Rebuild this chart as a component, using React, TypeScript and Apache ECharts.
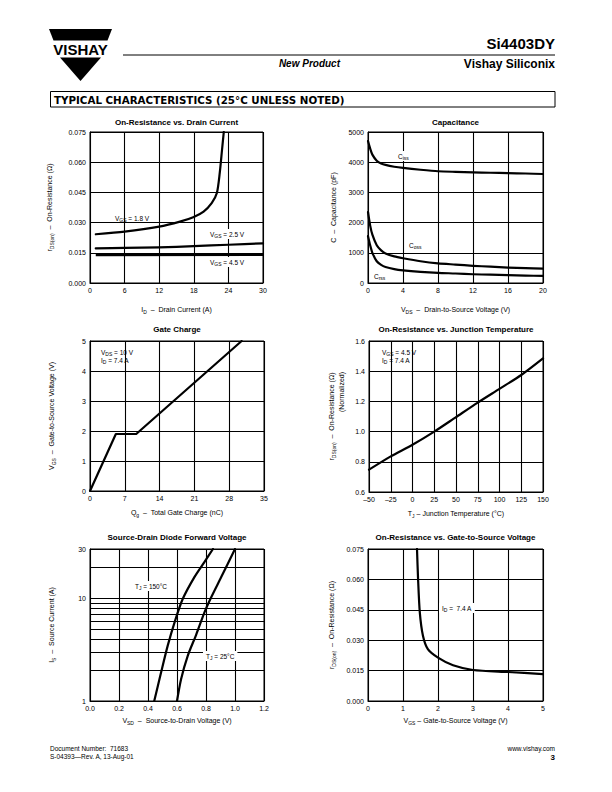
import React, { useEffect, useRef } from 'react';
import * as echarts from 'echarts';

const FONT = '"Liberation Sans", Arial, Helvetica, sans-serif';

// ---------- Chart 1: On-Resistance vs. Drain Current ----------
const c1X18 = [1, 6, 12, 15.6, 17.9, 19.7, 21.1, 22, 22.5, 22.9, 23.2];
const c1Y18 = [0.0242, 0.0255, 0.028, 0.0305, 0.0327, 0.0355, 0.0397, 0.0447, 0.0547, 0.0663, 0.075];
const c1X25 = [1, 6, 12, 18, 24, 30];
const c1Y25 = [0.0172, 0.0174, 0.0177, 0.0183, 0.019, 0.0197];
const c1X45 = [1, 30];
const c1Y45 = [0.0139, 0.0141];

// ---------- Chart 2: Capacitance ----------
const c2Vds = [0, 0.25, 0.5, 1, 1.5, 2, 3, 4, 6, 8, 10, 12, 14, 16, 18, 20];
const c2Ciss = [4700, 4450, 4250, 4050, 3960, 3910, 3850, 3810, 3750, 3700, 3680, 3665, 3650, 3640, 3625, 3610];
const c2Coss = [2350, 1900, 1600, 1250, 1080, 980, 880, 820, 720, 650, 610, 570, 540, 510, 490, 475];
const c2Crss = [1550, 1250, 1000, 720, 600, 530, 460, 420, 370, 335, 315, 290, 275, 260, 245, 235];

// ---------- Chart 3: Gate Charge ----------
const c3Qg = [0, 5.2, 9.3, 30.5];
const c3Vgs = [0, 1.9, 1.9, 5.0];

// ---------- Chart 4: On-Resistance vs. Junction Temperature ----------
const c4Tj = [-50, -25, 0, 25, 50, 75, 100, 125, 150];
const c4R = [0.748, 0.836, 0.913, 1.0, 1.096, 1.192, 1.283, 1.375, 1.485];

// ---------- Chart 5: Source-Drain Diode Forward Voltage ----------
const c5V150 = [0.443, 0.49, 0.536, 0.587, 0.64, 0.72, 0.79, 0.848];
const c5I150 = [1, 1.89, 3.45, 6.05, 9.85, 16, 22.5, 30];
const c5V25 = [0.6, 0.628, 0.674, 0.732, 0.79, 0.836, 0.905, 1.0];
const c5I25 = [1, 1.63, 2.75, 4.4, 7.3, 10.2, 16, 30];
const c5MinorLines = [2, 3, 4, 5, 6, 7, 8, 9, 20];

// ---------- Chart 6: On-Resistance vs. Gate-to-Source Voltage ----------
const c6Vgs = [1.4, 1.43, 1.48, 1.57, 1.71, 2.0, 2.43, 3.0, 4.0, 5.0];
const c6R = [0.075, 0.0605, 0.0437, 0.0322, 0.0256, 0.0214, 0.0176, 0.0153, 0.0143, 0.0133];

const zip = (xs: number[], ys: number[]) => xs.map((x, i) => [x, ys[i]]);

const RICH = {
  m: { fontSize: 7, fontFamily: FONT, color: '#000' },
  s: { fontSize: 5, fontFamily: FONT, color: '#000', padding: [4, 0, 0, 0] },
};

const rt = (parts: Array<[string, boolean?]>) =>
  parts.map(([t, sub]) => `{${sub ? 's' : 'm'}|${t}}`).join('');

const grids = [
  { left: 90, top: 132, width: 173, height: 151 },
  { left: 368, top: 132, width: 175, height: 151 },
  { left: 90, top: 341, width: 174, height: 150 },
  { left: 369, top: 341, width: 174, height: 151 },
  { left: 90, top: 549, width: 174, height: 152 },
  { left: 368, top: 549, width: 175, height: 152 },
].map((g) => ({ ...g, show: true, borderColor: '#000', borderWidth: 1, backgroundColor: 'transparent' }));

const axisCommon = (idx: number, name: string, nameGap: number, fmt: (v: number) => string) => ({
  gridIndex: idx,
  name,
  nameLocation: 'middle',
  nameGap,
  nameTextStyle: { color: '#000', fontSize: 7, fontFamily: FONT, rich: RICH },
  axisLine: { show: true, onZero: false, lineStyle: { color: '#000', width: 1 } },
  axisTick: { show: false },
  splitLine: { show: true, lineStyle: { color: '#000', width: 1.1 } },
  axisLabel: { color: '#000', fontSize: 7, fontFamily: FONT, margin: 4, formatter: fmt },
});

const xAxis = (idx: number, min: number, max: number, interval: number, name: string, gap: number, fmt: (v: number) => string) => ({
  type: 'value', min, max, interval, ...axisCommon(idx, name, gap, fmt),
});
const yAxis = (idx: number, min: number, max: number, interval: number, name: string, gap: number, fmt: (v: number) => string) => ({
  type: 'value', min, max, interval, ...axisCommon(idx, name, gap, fmt),
});

const f3 = (v: number) => v.toFixed(3);
const f1 = (v: number) => v.toFixed(1);
const f0 = (v: number) => String(Math.round(v));
const fNeg = (v: number) => (v < 0 ? '\u2013' + Math.abs(v) : String(v));

const line = (i: number, data: number[][], smooth = true, extra: any = {}) => ({
  type: 'line',
  xAxisIndex: i,
  yAxisIndex: i,
  data,
  showSymbol: false,
  symbol: 'none',
  smooth: smooth ? 0.25 : false,
  lineStyle: { color: '#000', width: 2.2, join: 'round', cap: 'round' },
  silent: true,
  z: 3,
  ...extra,
});

const txt = (x: number, y: number, text: string, font: string, align = 'left', extra: any = {}) => ({
  type: 'text',
  x,
  y,
  z: 100,
  style: { text, font, fill: '#000', align, textAlign: align, verticalAlign: 'middle', textVerticalAlign: 'middle', ...extra },
});

const ANN_RICH = {
  m: { fontSize: 6.5, fontFamily: FONT, fill: '#000', color: '#000' },
  s: { fontSize: 5, fontFamily: FONT, fill: '#000', color: '#000', padding: [3, 0, 0, 0] },
};

const ann = (x: number, y: number, parts: Array<[string, boolean?]>, bg = false) => ({
  type: 'text',
  x,
  y,
  z: 100,
  style: {
    text: rt(parts),
    rich: ANN_RICH,
    fill: '#000',
    align: 'left',
    textAlign: 'left',
    verticalAlign: 'middle',
    textVerticalAlign: 'middle',
    backgroundColor: bg ? '#fff' : undefined,
    padding: bg ? [1, 3, 1, 3] : 0,
  },
});

const TITLE_FONT = `bold 8px ${FONT}`;

const option: any = {
  animation: false,
  backgroundColor: '#fff',
  grid: grids,
  xAxis: [
    xAxis(0, 0, 30, 6, rt([['I'], ['D', true], ['  \u2013  Drain Current (A)']]), 22, f0),
    xAxis(1, 0, 20, 4, rt([['V'], ['DS', true], ['  \u2013  Drain-to-Source Voltage (V)']]), 22, f0),
    xAxis(2, 0, 35, 7, rt([['Q'], ['g', true], ['  \u2013  Total Gate Charge (nC)']]), 17, f0),
    xAxis(3, -50, 150, 25, rt([['T'], ['J', true], [' \u2013 Junction Temperature (\u00b0C)']]), 17, fNeg),
    xAxis(4, 0, 1.2, 0.2, rt([['V'], ['SD', true], ['  \u2013  Source-to-Drain Voltage (V)']]), 15, f1),
    xAxis(5, 0, 5, 1, rt([['V'], ['GS', true], [' \u2013 Gate-to-Source Voltage (V)']]), 15, f0),
  ],
  yAxis: [
    yAxis(0, 0, 0.075, 0.015, rt([['r'], ['DS(on)', true], ['  \u2013  On-Resistance (\u03a9)']]), 36, f3),
    yAxis(1, 0, 5000, 1000, rt([['C  \u2013  Capacitance (pF)']]), 31, f0),
    yAxis(2, 0, 5, 1, rt([['V'], ['GS', true], ['  \u2013  Gate-to-Source Voltage (V)']]), 34, f0),
    yAxis(3, 0.6, 1.6, 0.2, rt([['r'], ['DS(on)', true], ['  \u2013  On-Resistance (\u03a9)']]), 33, f1),
    {
      type: 'log',
      logBase: 10,
      min: 1,
      max: 30,
      ...axisCommon(4, rt([['I'], ['S', true], ['  \u2013  Source Current (A)']]), 34, f0),
    },
    yAxis(5, 0, 0.075, 0.015, rt([['r'], ['DS(on)', true], ['  \u2013  On-Resistance (\u03a9)']]), 32, f3),
  ],
  series: [
    line(0, zip(c1X18, c1Y18)),
    line(0, zip(c1X25, c1Y25)),
    line(0, zip(c1X45, c1Y45), false, { lineStyle: { color: '#000', width: 2.6 } }),
    line(1, zip(c2Vds, c2Ciss)),
    line(1, zip(c2Vds, c2Coss)),
    line(1, zip(c2Vds, c2Crss)),
    line(2, zip(c3Qg, c3Vgs), false),
    line(3, zip(c4Tj, c4R)),
    line(4, zip(c5V150, c5I150), true, {
      markLine: {
        silent: true,
        symbol: ['none', 'none'],
        label: { show: false },
        lineStyle: { color: '#000', width: 1, type: 'solid' },
        emphasis: { disabled: true },
        data: c5MinorLines.map((v) => ({ yAxis: v })),
      },
    }),
    line(4, zip(c5V25, c5I25)),
    line(5, zip(c6Vgs, c6R)),
  ],
  graphic: [
    // Logo
    { type: 'polygon', z: 100, shape: { points: [[49, 29], [112, 29], [107.5, 40.5], [53.5, 40.5]] }, style: { fill: '#000' } },
    txt(80.5, 49.5, 'VISHAY', `bold 15px ${FONT}`, 'center'),
    { type: 'polygon', z: 100, shape: { points: [[60, 57.5], [101, 57.5], [80.5, 81]] }, style: { fill: '#000' } },
    // Header
    { type: 'line', z: 100, shape: { x1: 123, y1: 55, x2: 555, y2: 55 }, style: { stroke: '#000', lineWidth: 1 } },
    txt(555, 43, 'Si4403DY', `bold 15px ${FONT}`, 'right'),
    txt(340, 63.5, 'New Product', `italic bold 10px ${FONT}`, 'right'),
    txt(555, 64, 'Vishay Siliconix', `bold 12px ${FONT}`, 'right'),
    { type: 'rect', z: 100, shape: { x: 50.5, y: 91.5, width: 504.5, height: 15.5 }, style: { fill: 'none', stroke: '#000', lineWidth: 1 } },
    txt(54, 99.5, 'TYPICAL CHARACTERISTICS (25\u00b0C UNLESS NOTED)', `bold 10.3px "DejaVu Sans", ${FONT}`, 'left'),
    // Chart titles
    txt(176.5, 122.5, 'On-Resistance vs. Drain Current', TITLE_FONT, 'center'),
    txt(455.5, 122.5, 'Capacitance', TITLE_FONT, 'center'),
    txt(177, 329.5, 'Gate Charge', TITLE_FONT, 'center'),
    txt(456, 329.5, 'On-Resistance vs. Junction Temperature', TITLE_FONT, 'center'),
    txt(177, 537.5, 'Source-Drain Diode Forward Voltage', TITLE_FONT, 'center'),
    txt(455.5, 537.5, 'On-Resistance vs. Gate-to-Source Voltage', TITLE_FONT, 'center'),
    // Annotations
    ann(115, 218, [['V'], ['GS', true], [' = 1.8 V']]),
    ann(207, 234, [['V'], ['GS', true], [' = 2.5 V']], true),
    ann(207, 262, [['V'], ['GS', true], [' = 4.5 V']], true),
    ann(395, 156, [['C'], ['iss', true]], true),
    ann(409, 245, [['C'], ['oss', true]]),
    ann(374, 276, [['C'], ['rss', true]]),
    ann(101, 352, [['V'], ['DS', true], [' = 10 V']]),
    ann(101, 360, [['I'], ['D', true], [' = 7.4 A']]),
    ann(382, 352, [['V'], ['GS', true], [' = 4.5 V']]),
    ann(382, 360, [['I'], ['D', true], [' = 7.4 A']]),
    ann(132, 586, [['T'], ['J', true], [' = 150\u00b0C']], true),
    ann(203, 656, [['T'], ['J', true], [' = 25\u00b0C']], true),
    ann(439, 608, [['I'], ['D', true], [' =  7.4 A']], true),
    {
      type: 'text', x: 341, y: 392, z: 100, rotation: Math.PI / 2,
      style: { text: '(Normalized)', font: `7px ${FONT}`, fill: '#000', align: 'center', textAlign: 'center', verticalAlign: 'middle', textVerticalAlign: 'middle' },
    },
    // Footer
    txt(50, 748.5, 'Document Number:  71683', `6.5px ${FONT}`, 'left'),
    txt(50, 756.5, 'S-04393\u2014Rev. A, 13-Aug-01', `6.5px ${FONT}`, 'left'),
    txt(555, 748.5, 'www.vishay.com', `6.5px ${FONT}`, 'right'),
    txt(555, 757.5, '3', `bold 8px ${FONT}`, 'right'),
  ],
};

export default function App() {
  const ref = useRef<HTMLDivElement>(null);
  useEffect(() => {
    if (!ref.current) return;
    const chart = echarts.init(ref.current, null, { renderer: 'svg' });
    chart.setOption(option);
    return () => chart.dispose();
  }, []);
  return (
    <div
      ref={ref}
      style={{ position: 'absolute', left: 0, top: 0, width: 612, height: 792, background: '#fff' }}
    />
  );
}
